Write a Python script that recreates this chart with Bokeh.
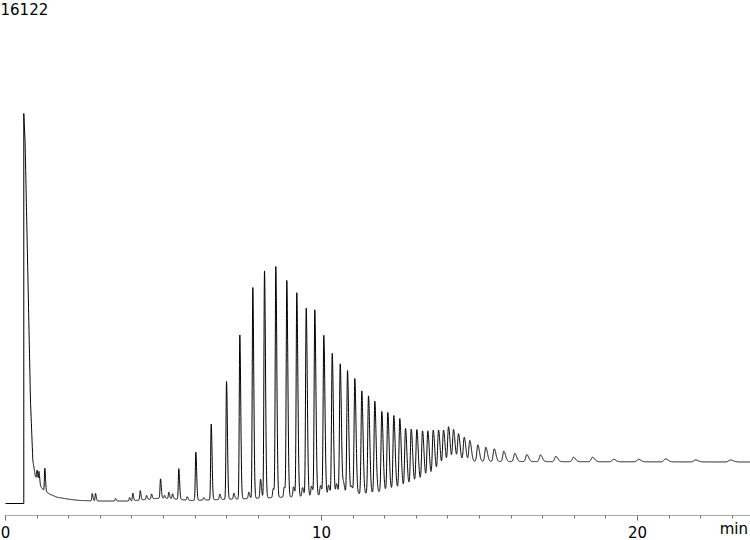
import numpy as np
from bokeh.plotting import figure
from bokeh.models import Label, SingleIntervalTicker, Range1d
from bokeh.embed import file_html
from bokeh.resources import INLINE

# ---- data (time in min, signal in counts) ----
full_scale = 16122
start_time = 0.579  # injection / solvent front

# background signal (solvent peak tail + drifting baseline)
bg_time = [0.579, 0.62, 0.79, 0.865, 0.94, 1.005, 1.11, 1.215, 1.42, 1.635, 2.06, 2.37,
           3.0, 3.96, 4.43, 4.91, 5.38, 5.85, 6.80, 7.75, 9.34, 10.6, 11.55, 12.59,
           13.45, 13.86, 14.18, 14.7, 23.6]
bg_level = [12500, 11600, 3300, 1380, 900, 737, 545, 417, 290, 200, 128, 96,
            80, 80, 128, 176, 144, 96, 128, 160, 224, 288, 320, 513,
            833, 1154, 1346, 1346, 1330]

peak_time = [1.00, 1.06, 1.244, 2.744, 2.848, 3.481, 3.924, 4.028, 4.263, 4.462, 4.620,
             4.905, 5.032, 5.168, 5.285, 5.484, 5.750, 6.022, 6.275, 6.509, 6.782,
             6.994, 7.225, 7.415, 7.699, 7.826, 8.070, 8.196, 8.472, 8.554, 8.820,
             8.902, 9.114, 9.218, 9.399, 9.516, 9.684, 9.788, 9.968, 10.073, 10.222,
             10.339, 10.475, 10.592, 10.696, 10.823, 10.949, 11.054, 11.275, 11.487,
             11.687, 11.908, 12.098, 12.288, 12.478, 12.658, 12.839, 13.016, 13.196,
             13.364, 13.535, 13.703, 13.861, 14.019, 14.177, 14.335, 14.516, 14.693,
             14.946, 15.199, 15.465, 15.769, 16.117, 16.497, 16.930, 17.415, 17.975,
             18.576, 19.241, 20.032, 20.886, 21.835, 22.943]
peak_height = [321, 385, 737, 234, 240, 80, 112, 244, 304, 128, 160,
               615, 96, 208, 160, 984, 112, 1548, 80, 2429, 176,
               3782, 192, 5256, 208, 6763, 609, 7275, 288, 7404, 321,
               6939, 321, 6538, 288, 6025, 321, 5961, 321, 5128, 321,
               4541, 353, 4189, 353, 3965, 256, 3699, 3301, 3131,
               2939, 2564, 2500, 2365, 2234, 1869, 1779, 1699, 1590,
               1526, 1452, 1324, 1195, 1208, 1026, 888, 779, 673,
               535, 458, 407, 330, 266, 224, 215, 170, 144,
               144, 80, 80, 96, 64, 64]

x_ticks_major = 10
x_unit = "min"

# ---- build the trace from the peak table ----
t_grid = np.arange(start_time, 23.6, 0.003)
signal = np.interp(t_grid, bg_time, bg_level)
for tc, h in zip(peak_time, peak_height):
    s_left = 0.0127 + 0.000079 * tc ** 2
    s_right = 1.7 * s_left
    sig = np.where(t_grid < tc, s_left, s_right)
    signal = signal + h * np.exp(-0.5 * ((t_grid - tc) / sig) ** 2)

trace_t = np.concatenate([[0.0, start_time], t_grid])
trace_v = np.concatenate([[0.0, 0.0], signal])

# ---- figure ----
px_per_min = 31.6
counts_per_px = full_scale / 503.0
p = figure(width=750, height=540, output_backend="svg", toolbar_location=None,
           x_range=Range1d(-5 / px_per_min, 745 / px_per_min),
           y_range=Range1d(-12 * counts_per_px, full_scale),
           y_axis_location=None, min_border_left=0, min_border_right=0,
           min_border_top=0, min_border_bottom=0)
p.outline_line_color = None
p.xgrid.visible = False
p.ygrid.visible = False
p.background_fill_color = "white"
p.border_fill_color = "white"

p.line(trace_t, trace_v, line_color="black", line_width=1)

ax = p.xaxis[0]
ax.bounds = (0, 745 / px_per_min)
ax.ticker = SingleIntervalTicker(interval=x_ticks_major, num_minor_ticks=10)
ax.axis_line_color = "#a8a8a8"
ax.major_tick_line_color = "#707070"
ax.minor_tick_line_color = "#707070"
ax.major_tick_out = 5
ax.major_tick_in = 0
ax.minor_tick_out = 3
ax.minor_tick_in = 0
ax.major_label_standoff = 5
ax.major_label_text_font = "DejaVu Sans"
ax.major_label_text_font_size = "15px"
ax.major_label_text_color = "black"
# unit label sits at the right end of the axis, on the tick-label row
ax.axis_label = x_unit + "\u00a0" * 7
ax.axis_label_align = "end"
ax.axis_label_standoff = -21
ax.axis_label_text_font = "DejaVu Sans"
ax.axis_label_text_font_size = "15px"
ax.axis_label_text_font_style = "normal"
ax.axis_label_text_color = "black"

p.add_layout(Label(x=0, y=513, x_units="screen", y_units="screen", text=str(full_scale),
                   text_baseline="top", text_align="left", text_font="DejaVu Sans",
                   text_font_size="15px", text_color="black"))

open("out.html", "w").write(file_html(p, INLINE))
